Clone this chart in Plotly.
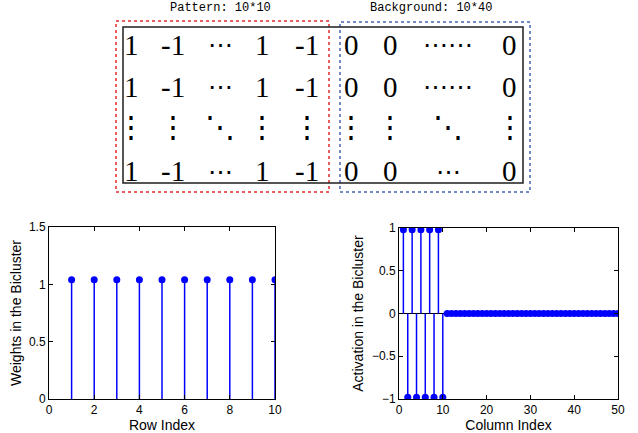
import plotly.graph_objects as go

W, H = 638, 433

# ---- data ----
row_index = list(range(1, 11))
row_weights = [1.04] * 10

col_index = list(range(1, 51))
col_activation = [0.98, -0.98] * 5 + [0.0] * 40

pattern_title = "Pattern: 10*10"
background_title = "Background: 10*40"
matrix_rows = [
    ["1", "-1", "⋯", "1", "-1", "0", "0", "⋯⋯", "0"],
    ["1", "-1", "⋯", "1", "-1", "0", "0", "⋯⋯", "0"],
    ["⋮", "⋮", "⋱", "⋮", "⋮", "⋮", "⋮", "⋱", "⋮"],
    ["1", "-1", "⋯", "1", "-1", "0", "0", "⋯", "0"],
]

# ---- layout constants (pixels) ----
col_px = [131, 173, 220, 262, 307, 351, 390, 448, 510]
row_px = [45, 87, 127, 171]


def px(x):
    return x / W


def py(y):
    return 1 - y / H


BLUE = "rgb(0,0,255)"


def stem_xy(xs, ys):
    sx, sy = [], []
    for x, y in zip(xs, ys):
        sx += [x, x, None]
        sy += [0, y, None]
    return sx, sy


fig = go.Figure()

sx, sy = stem_xy(row_index, row_weights)
fig.add_trace(go.Scatter(x=sx, y=sy, mode="lines", line=dict(color=BLUE, width=1.5),
                         xaxis="x", yaxis="y", hoverinfo="skip"))
fig.add_trace(go.Scatter(x=row_index, y=row_weights, mode="markers",
                         marker=dict(color=BLUE, size=7), xaxis="x", yaxis="y"))

sx2, sy2 = stem_xy(col_index, col_activation)
fig.add_trace(go.Scatter(x=sx2, y=sy2, mode="lines", line=dict(color=BLUE, width=1.5),
                         xaxis="x2", yaxis="y2", hoverinfo="skip"))
fig.add_trace(go.Scatter(x=col_index, y=col_activation, mode="markers",
                         marker=dict(color=BLUE, size=7), xaxis="x2", yaxis="y2"))

axis_common = dict(showgrid=False, showline=True, linecolor="black", linewidth=1,
                   mirror="ticks", ticks="inside", ticklen=4, tickcolor="black",
                   tickfont=dict(family="Liberation Sans, Arial", size=12, color="black"),
                   automargin=False)
title_font = dict(family="Liberation Sans, Arial", size=14, color="black")

fig.update_layout(
    width=W, height=H, margin=dict(l=0, r=0, t=0, b=0, autoexpand=False),
    paper_bgcolor="white", plot_bgcolor="white", showlegend=False,
    xaxis=dict(domain=[px(49), px(275)], range=[0, 10], tickvals=[0, 2, 4, 6, 8, 10],
               title=dict(text="Row Index", font=title_font, standoff=0), anchor="y",
               zeroline=False, **axis_common),
    yaxis=dict(domain=[py(399), py(227)], range=[0, 1.5], tickvals=[0, 0.5, 1, 1.5],
               ticktext=["0", "0.5", "1", "1.5"],
               title=dict(text="Weights in the Bicluster", font=title_font, standoff=4), anchor="x",
               zeroline=False, **axis_common),
    xaxis2=dict(domain=[px(399), px(618)], range=[0, 50], tickvals=[0, 10, 20, 30, 40, 50],
                title=dict(text="Column Index", font=title_font, standoff=0), anchor="y2",
                zeroline=False, **axis_common),
    yaxis2=dict(domain=[py(399), py(228)], range=[-1, 1], tickvals=[-1, -0.5, 0, 0.5, 1],
                ticktext=["\u22121", "\u22120.5", "0", "0.5", "1"],
                title=dict(text="Activation in the Bicluster", font=title_font, standoff=4), anchor="x2",
                zeroline=True, zerolinecolor="black", zerolinewidth=1, **axis_common),
)

# ---- matrix diagram ----
shapes = [
    dict(type="rect", xref="paper", yref="paper", x0=px(116), x1=px(329), y0=py(192), y1=py(21),
         line=dict(color="rgb(225,40,40)", width=1.5, dash="dot")),
    dict(type="rect", xref="paper", yref="paper", x0=px(340), x1=px(530), y0=py(192), y1=py(22),
         line=dict(color="rgb(70,100,175)", width=1.5, dash="dot")),
    dict(type="rect", xref="paper", yref="paper", x0=px(123), x1=px(523), y0=py(183), y1=py(27),
         line=dict(color="rgb(30,30,30)", width=1.5)),
]
fig.update_layout(shapes=shapes)

ann = []
for r, row in enumerate(matrix_rows):
    for c, txt in enumerate(row):
        if txt in ("⋯", "⋯⋯"):
            size = 25
        elif txt in ("⋮", "⋱"):
            size = 30
        else:
            size = 29
        ann.append(dict(x=px(col_px[c]), y=py(row_px[r]), xref="paper", yref="paper",
                        text=txt, showarrow=False, xanchor="center", yanchor="middle",
                        font=dict(family="Liberation Serif, Times New Roman, DejaVu Serif",
                                  size=size, color="black")))
ann.append(dict(x=px(220), y=py(0), xref="paper", yref="paper", text=pattern_title,
                showarrow=False, xanchor="center", yanchor="top", borderpad=0,
                font=dict(family="Liberation Mono, Courier New", size=12, color="black")))
ann.append(dict(x=px(431), y=py(0), xref="paper", yref="paper", text=background_title,
                showarrow=False, xanchor="center", yanchor="top", borderpad=0,
                font=dict(family="Liberation Mono, Courier New", size=12, color="black")))
fig.update_layout(annotations=ann)

fig.write_html("out.html", config={"displayModeBar": False},
               post_script="document.body.style.margin='0';document.body.style.overflow='hidden';")
